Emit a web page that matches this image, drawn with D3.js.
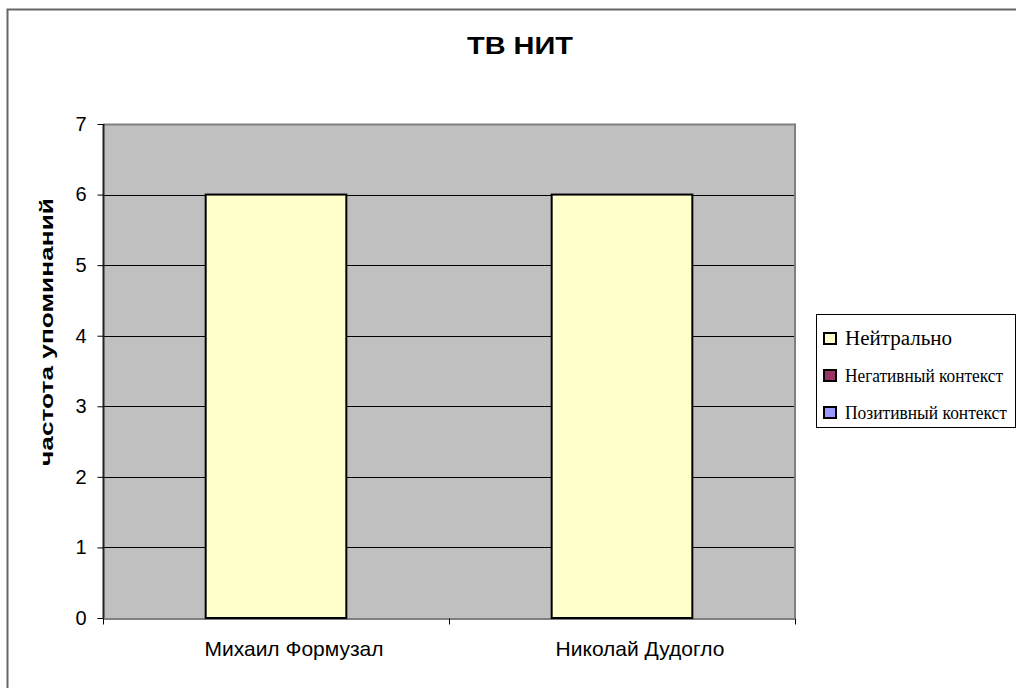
<!DOCTYPE html>
<html><head><meta charset="utf-8">
<script src="https://cdn.jsdelivr.net/npm/d3@7"></script>
<style>html,body{margin:0;padding:0;background:#fff;overflow:hidden}</style>
</head><body>
<script>
const title = "ТВ НИТ";
const yLabel = "частота упоминаний";
const categories = ["Михаил Формузал", "Николай Дудогло"];
const seriesNames = ["Нейтрально", "Негативный контекст", "Позитивный контекст"];
const seriesColors = ["#ffffcc", "#993366", "#9999ff"];
const neutral = [6, 6];
const negative = [0, 0];
const positive = [0, 0];
const yTicks = [0, 1, 2, 3, 4, 5, 6, 7];

const W = 1016, H = 688;
const svg = d3.select("body").append("svg").attr("width", W).attr("height", H);
const sans = "'Liberation Sans', Arial, sans-serif";
const serif = "'Liberation Serif', 'Times New Roman', serif";

// outer chart border
svg.append("rect").attr("x", 7.5).attr("y", 9.5).attr("width", 1100).attr("height", 800)
  .attr("fill", "#fff").attr("stroke", "#666").attr("stroke-width", 2);

const L = 103, R = 795, T = 124, B = 618;
const x = d3.scaleBand().domain(categories).range([L, R]).padding(0);
const y = d3.scaleLinear().domain([0, 7]).range([B, T]);

// plot area
svg.append("rect").attr("x", L).attr("y", T).attr("width", R - L).attr("height", B - T).attr("fill", "#c0c0c0");

// gridlines
svg.append("g").selectAll("line").data(yTicks.filter(d => d > 0)).join("line")
  .attr("x1", L).attr("x2", R).attr("y1", d => Math.round(y(d)) + 0.5).attr("y2", d => Math.round(y(d)) + 0.5)
  .attr("stroke", d => d === 7 ? "#808080" : "#000").attr("stroke-width", d => d === 7 ? 2 : 1);
// right border
svg.append("line").attr("x1", R).attr("x2", R).attr("y1", T - 0.5).attr("y2", B).attr("stroke", "#808080").attr("stroke-width", 2);

// bars (stacked: neutral at bottom)
const barW = x.bandwidth() / 2.46;
const stacks = [neutral, negative, positive];
categories.forEach((c, i) => {
  let base = 0;
  stacks.forEach((s, k) => {
    const v = s[i];
    if (v > 0) {
      svg.append("rect")
        .attr("x", x(c) + (x.bandwidth() - barW) / 2).attr("y", y(base + v))
        .attr("width", barW).attr("height", y(base) - y(base + v))
        .attr("fill", seriesColors[k]).attr("stroke", "#000").attr("stroke-width", 2);
    }
    base += v;
  });
});

// y axis
const yAxis = d3.axisLeft(y).tickValues(yTicks).tickSize(6).tickPadding(11).tickFormat(d3.format("d"));
const gy = svg.append("g").attr("transform", `translate(${L + 0.5},0)`).call(yAxis);
gy.selectAll("text").attr("font-family", sans).attr("font-size", 20).attr("fill", "#000");
gy.selectAll("line").attr("stroke", "#000");
gy.select(".domain").attr("stroke", "#222").attr("stroke-width", 2).attr("d", `M0,${T}V${B}`);

// x axis
const xAxis = d3.axisBottom(x).tickValues([]).tickSizeOuter(0);
const gx = svg.append("g").attr("transform", `translate(0,${B + 0.5})`).call(xAxis);
gx.select(".domain").attr("stroke", "#000").attr("stroke-width", 1);
const sepTicks = [L, x(categories[1]), R];
gx.selectAll(".sep").data(sepTicks).join("line").attr("class", "sep")
  .attr("x1", d => d + 0.5).attr("x2", d => d + 0.5).attr("y1", 0).attr("y2", 6).attr("stroke", "#000");
gx.selectAll(".cat").data(categories).join("text").attr("class", "cat")
  .attr("x", d => x(d) + x.bandwidth() / 2 + 18).attr("y", 37).attr("text-anchor", "middle")
  .attr("font-family", sans).attr("font-size", 21).attr("fill", "#000").text(d => d);

// title
svg.append("text").attr("x", 467).attr("y", 54)
  .attr("font-family", sans).attr("font-weight", "bold").attr("font-size", 23)
  .attr("textLength", 106).attr("lengthAdjust", "spacingAndGlyphs").text(title);

// y label
svg.append("text").attr("transform", `translate(53,466) rotate(-90)`)
  .attr("font-family", sans).attr("font-weight", "bold")
  .attr("font-size", 18).attr("textLength", 268).attr("lengthAdjust", "spacingAndGlyphs").text(yLabel);

// legend
const lg = svg.append("g");
lg.append("rect").attr("x", 816.5).attr("y", 314.5).attr("width", 199).attr("height", 113)
  .attr("fill", "#fff").attr("stroke", "#000").attr("stroke-width", 1);
const baseY = [345, 382, 419];
const lens = [107, 158, 162];
const fsz = [20, 18, 18];
seriesNames.forEach((n, i) => {
  lg.append("rect").attr("x", 824).attr("y", baseY[i] - 12).attr("width", 12).attr("height", 11)
    .attr("fill", seriesColors[i]).attr("stroke", "#000").attr("stroke-width", 2);
  lg.append("text").attr("x", 845).attr("y", baseY[i]).attr("font-family", serif)
    .attr("font-size", fsz[i]).attr("fill", "#000")
    .attr("textLength", lens[i]).attr("lengthAdjust", "spacingAndGlyphs").text(n);
});
</script>
</body></html>
